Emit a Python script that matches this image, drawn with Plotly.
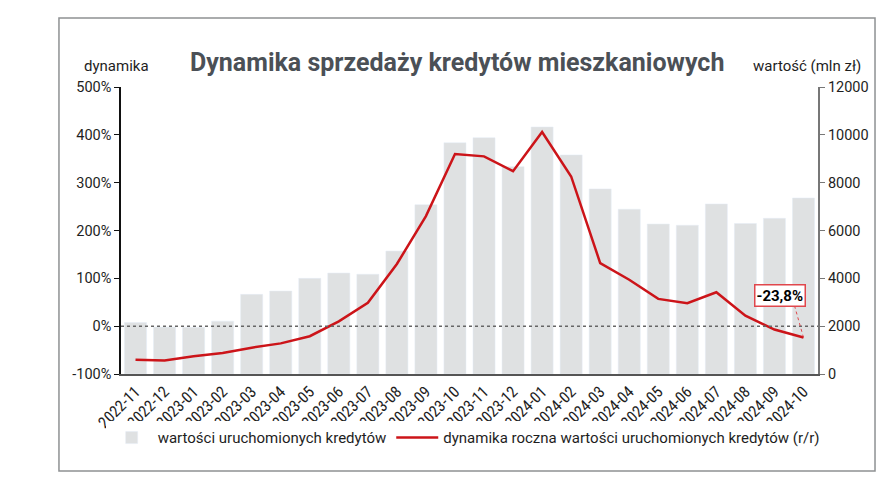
import plotly.graph_objects as go

# dane
miesiace = ['2022-11', '2022-12', '2023-01', '2023-02', '2023-03', '2023-04',
            '2023-05', '2023-06', '2023-07', '2023-08', '2023-09', '2023-10',
            '2023-11', '2023-12', '2024-01', '2024-02', '2024-03', '2024-04',
            '2024-05', '2024-06', '2024-07', '2024-08', '2024-09', '2024-10']

wartosc = [2150, 1960, 1950, 2210, 3330, 3470, 4000, 4220, 4170, 5140, 7080, 9670,
           9880, 8670, 10330, 9160, 7740, 6890, 6270, 6220, 7110, 6290, 6510, 7360]

dynamika = [-70, -72, -63, -56, -45, -36, -21, 10, 49, 130, 230, 360,
            355, 324, 406, 313, 132, 97, 57, 48, 71, 22, -7, -23.8]

left_ticks = [-100, 0, 100, 200, 300, 400, 500]
right_ticks = [0, 2000, 4000, 6000, 8000, 10000, 12000]

FONT = 'Roboto'
NARROW = 'Roboto Condensed, Liberation Sans Narrow, Roboto'
TXT = '#1e1e1e'
RED = '#cc1419'

fig = go.Figure()

# slupki na glownej osi (prawa strona), linia na osi nakladanej (lewa)
fig.add_trace(go.Bar(x=miesiace, y=wartosc, name='wartości uruchomionych kredytów',
                     marker_color='#dfe1e2', yaxis='y'))
fig.add_trace(go.Scatter(x=miesiace, y=dynamika, mode='lines',
                         name='dynamika roczna wartości uruchomionych kredytów (r/r)',
                         line=dict(color=RED, width=2.5), yaxis='y2'))

# strona ma 8px marginesu w przegladarce, wiec figura jest o tyle mniejsza
fig.update_layout(
    width=878, height=479,
    margin=dict(l=113, r=68, t=79, b=113),
    paper_bgcolor='white', plot_bgcolor='white',
    font=dict(family=FONT, size=14, color=TXT),
    bargap=0.24,
    showlegend=True,
    legend=dict(orientation='h', x=-0.022, y=-0.165, xanchor='left', yanchor='top',
                font=dict(size=15, color=TXT), traceorder='normal',
                itemwidth=42, tracegroupgap=0),
    xaxis=dict(type='category', tickangle=-45, showgrid=False, ticks='',
               showline=True, linecolor='#555', linewidth=2,
               tickfont=dict(size=16, color=TXT, family=NARROW)),
    yaxis=dict(side='right', range=[0, 12000], tickvals=right_ticks,
               ticktext=[str(v) for v in right_ticks],
               showgrid=False, zeroline=False, showline=True, linecolor='#777',
               linewidth=2, ticks='outside', ticklen=5, tickcolor='#777',
               tickfont=dict(size=14.5, color=TXT)),
    yaxis2=dict(side='left', overlaying='y', range=[-100, 500], tickvals=left_ticks,
                ticktext=[f'{v}%' for v in left_ticks],
                showgrid=False, zeroline=False, showline=True,
                linecolor='#111', linewidth=1.5, ticks='outside', ticklen=5,
                tickcolor='#111', tickfont=dict(size=14.5, color=TXT)),
)

# linia 0%
fig.add_shape(type='line', xref='paper', yref='y2', x0=0, x1=1, y0=0, y1=0,
              line=dict(color='#666', width=1.5, dash='dot'), layer='above')

# ramki
fig.add_shape(type='rect', xref='paper', yref='paper', x0=-0.089, x1=1.0818,
              y0=-0.338, y1=1.2404, line=dict(color='#8e9193', width=1.5))
fig.add_shape(type='rect', xref='paper', yref='paper', x0=-0.089, x1=1.0818,
              y0=1.2857, y1=1.4, line=dict(color='#8e9193', width=1.5))

# tytul i opisy osi
fig.add_annotation(text='<b>Dynamika sprzedaży kredytów mieszkaniowych</b>',
                   xref='paper', yref='paper', x=0.482, y=1.084, showarrow=False,
                   xanchor='center', yanchor='middle',
                   font=dict(size=25, color='#4b5056', family=FONT))
fig.add_annotation(text='dynamika', xref='paper', yref='paper', x=0.043, y=1.073,
                   xanchor='right', yanchor='middle', showarrow=False,
                   font=dict(size=15, color=TXT))
fig.add_annotation(text='wartość (mln zł)', xref='paper', yref='paper', x=0.984,
                   y=1.073, xanchor='center', yanchor='middle', showarrow=False,
                   font=dict(size=15, color=TXT))

# etykieta ostatniej wartosci
fig.add_annotation(text='<b>' + f'{dynamika[-1]:.1f}'.replace('.', ',') + '%</b>',
                   x=miesiace[-1], y=dynamika[-1], xref='x', yref='y2',
                   showarrow=True, arrowcolor='rgba(0,0,0,0)', ax=-23, ay=-42,
                   font=dict(size=15, color='#000'), bgcolor='white',
                   bordercolor='#e0474c', borderwidth=1.5, borderpad=1)
fig.add_shape(type='line', xref='x', yref='y2', xsizemode='pixel', ysizemode='pixel',
              xanchor=miesiace[-1], yanchor=dynamika[-1], x0=0, y0=0, x1=-9, y1=32,
              line=dict(color='#e0474c', width=1, dash='dot'))

fig.write_html("out.html")
